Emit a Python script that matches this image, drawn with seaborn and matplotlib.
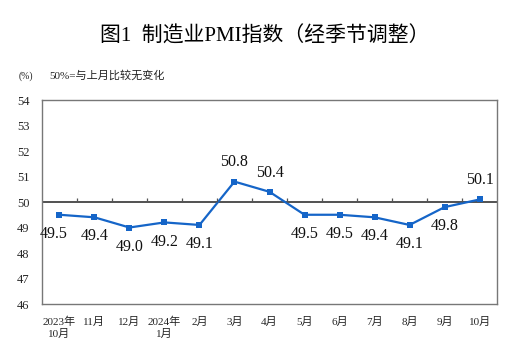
import numpy as np
import pandas as pd
import matplotlib
matplotlib.use("Agg")
import matplotlib.pyplot as plt
import seaborn as sns

# ── Data ──────────────────────────────────────────────────────────────
months = ["2023年\n10月", "11月", "12月", "2024年\n1月", "2月", "3月", "4月",
          "5月", "6月", "7月", "8月", "9月", "10月"]
pmi = [49.5, 49.4, 49.0, 49.2, 49.1, 50.8, 50.4, 49.5, 49.5, 49.4, 49.1, 49.8, 50.1]
yticks = [46, 47, 48, 49, 50, 51, 52, 53, 54]

sns.set_style("white")
FONT = ["Liberation Serif", "Noto Sans CJK SC", "DejaVu Sans"]
plt.rcParams["font.family"] = FONT

df = pd.DataFrame({"pos": np.arange(len(months)), "pmi": pmi})

fig = plt.figure(figsize=(5.3, 3.63), dpi=100)
ax = fig.add_axes([0.079, 0.1625, 0.859, 0.562])

line_color = "#1565C8"
sns.lineplot(data=df, x="pos", y="pmi", ax=ax, color=line_color, linewidth=1.6,
             marker="s", markersize=5, markeredgewidth=0, markerfacecolor=line_color)

# 50 reference line with boundary ticks
ax.axhline(50, color="#333333", linewidth=1.2, zorder=1)
ax.vlines(np.arange(0.5, len(months) - 1), 50, 50.16, color="#555555", linewidth=0.9)

# data labels
for i, v in enumerate(pmi):
    above = v >= 50
    dx = -0.15 if i == 0 else 0
    ax.annotate(f"{v:.1f}", (i + dx, v), xytext=(0, 8 if above else -8),
                textcoords="offset points", ha="center",
                va="bottom" if above else "top", fontsize=11.5, color="#111111")

ax.set_xlim(-0.5, len(months) - 0.5)
ax.set_ylim(46, 54)
ax.set_yticks(yticks)
ax.set_xticks(df["pos"])
ax.set_xticklabels(months, fontsize=8, linespacing=1.3, va="top")
ax.tick_params(axis="x", length=0, pad=9)
ax.tick_params(axis="y", length=0, pad=9, labelsize=9)
ax.set_xlabel("")
ax.set_ylabel("")

for s in ax.spines.values():
    s.set_color("#777777")
    s.set_linewidth(1.0)

fig.text(0.5, 0.9, "图1  制造业PMI指数（经季节调整）", ha="center", va="center",
         fontsize=15, fontweight="medium", family=["Liberation Serif", "Noto Sans CJK SC"],
         color="#000000")
fig.text(0.035, 0.79, "(%)", ha="left", va="center", fontsize=7, color="#222222")
fig.text(0.093, 0.793, "50%=与上月比较无变化", ha="left", va="center", fontsize=8,
         color="#222222")

fig.savefig("out.png", dpi=100)
